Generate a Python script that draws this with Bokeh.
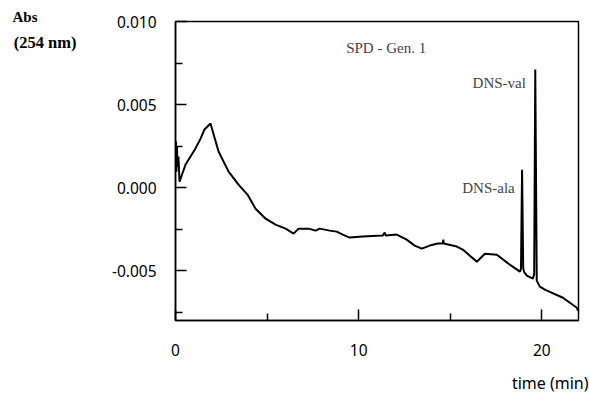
from bokeh.plotting import figure
from bokeh.models import (FixedTicker, NumeralTickFormatter, Label, Range1d, Title,
                          LinearAxis)
from bokeh.embed import file_html
from bokeh.resources import INLINE

# chromatogram trace
time_min = [0.00, 0.03, 0.05, 0.08, 0.11, 0.16, 0.22, 0.55, 1.09, 1.37, 1.58, 1.91,
            2.35, 2.90, 3.44, 3.93, 4.37, 4.92, 5.46, 6.01, 6.45, 6.72, 7.27, 7.65,
            7.87, 8.42, 8.80, 9.13, 9.51, 10.22, 11.31, 11.42, 11.48, 12.08, 12.62,
            13.06, 13.44, 13.88, 14.32, 14.59, 14.62, 14.64, 15.36, 15.68, 16.45,
            16.89, 17.54, 18.25, 18.80, 18.86, 18.92, 18.98, 19.02, 19.18, 19.51,
            19.58, 19.64, 19.72, 19.89, 20.16, 21.15, 21.91, 21.97]
absorbance = [0.00217, 0.00277, 0.00096, 0.00247, 0.00127, 0.00187, 0.00036, 0.00139,
              0.00235, 0.00295, 0.00350, 0.00386, 0.00217, 0.00096, 0.00018, -0.00042,
              -0.00127, -0.00187, -0.00223, -0.00247, -0.00277, -0.00247, -0.00247,
              -0.00259, -0.00247, -0.00259, -0.00265, -0.00283, -0.00301, -0.00295,
              -0.00289, -0.00271, -0.00289, -0.00283, -0.00313, -0.00349, -0.00367,
              -0.00349, -0.00337, -0.00337, -0.00313, -0.00337, -0.00355, -0.00373,
              -0.00446, -0.00398, -0.00404, -0.00464, -0.00506, -0.00490, 0.00108,
              -0.00480, -0.00506, -0.00530, -0.00548, -0.00520, 0.00711, -0.00560,
              -0.00596, -0.00614, -0.00663, -0.00723, -0.00740]

y_major = [-0.005, 0.0, 0.005, 0.010]
y_minor = [-0.0075, -0.0025, 0.0025, 0.0075]
x_major = [0, 10, 20]
x_minor = [5, 15]

title_text = "SPD - Gen. 1"
peak_names = ["DNS-ala", "DNS-val"]
y_title = ["Abs", "(254 nm)"]
x_title = "time (min)"

p = figure(frame_width=403, frame_height=299, output_backend="svg",
           toolbar_location=None,
           x_range=Range1d(0, 22), y_range=Range1d(-0.008, 0.010),
           min_border_left=175, min_border_right=11, min_border_top=21,
           min_border_bottom=73)
p.background_fill_color = "white"
p.border_fill_color = "white"
p.grid.visible = False
p.outline_line_color = "black"
p.outline_line_width = 1.5

tick_font = "Noto Sans"
serif = "Liberation Serif"
for ax in (p.xaxis[0], p.yaxis[0]):
    ax.axis_line_width = 1.5
    ax.axis_line_color = "black"
    ax.major_tick_in = 11
    ax.major_tick_out = 0
    ax.minor_tick_in = 7
    ax.minor_tick_out = 0
    ax.major_tick_line_width = 1.5
    ax.minor_tick_line_width = 1.5
    ax.major_label_text_font = tick_font
    ax.major_label_text_font_size = "15.5px"
    ax.major_label_text_color = "black"

p.yaxis[0].ticker = FixedTicker(ticks=y_major, minor_ticks=y_minor)
p.yaxis[0].formatter = NumeralTickFormatter(format="0.000")
p.yaxis[0].major_label_standoff = 19
p.xaxis[0].ticker = FixedTicker(ticks=x_major, minor_ticks=x_minor)
p.xaxis[0].major_label_standoff = 23

# second (label-only) axis on the left carrying "(254 nm)"
p.extra_y_ranges = {"lab": Range1d(0, 299)}
lab_axis = LinearAxis(y_range_name="lab", ticker=FixedTicker(ticks=[278]),
                      major_label_overrides={278: y_title[1]},
                      axis_line_color=None, major_tick_line_color=None,
                      minor_tick_line_color=None, major_label_standoff=26,
                      major_label_text_font=serif,
                      major_label_text_font_size="16.5px",
                      major_label_text_font_style="bold",
                      major_label_text_color="black")
p.add_layout(lab_axis, "left")

p.line(time_min, absorbance, line_color="black", line_width=2)

p.add_layout(Label(x=11.5, y=0.0084, text=title_text, text_font=serif,
                   text_font_size="15px", text_align="center",
                   text_baseline="middle"))
p.add_layout(Label(x=19.13, y=0.0063, text=peak_names[1], text_font=serif,
                   text_font_size="15px", text_align="right",
                   text_baseline="middle"))
p.add_layout(Label(x=18.52, y=0.0000, text=peak_names[0], text_font=serif,
                   text_font_size="15px", text_align="right",
                   text_baseline="middle"))

p.title.text = y_title[0]
p.title.align = "left"
p.title.offset = -163
p.title.standoff = -7
p.title.text_font = serif
p.title.text_font_size = "15px"
p.title.text_font_style = "bold"
p.title.text_color = "black"

p.add_layout(Title(text=x_title, align="right", offset=-10, standoff=22,
                   text_font=tick_font, text_font_size="16px",
                   text_font_style="normal", text_color="black"), "below")

open("out.html", "w").write(file_html(p, INLINE))
